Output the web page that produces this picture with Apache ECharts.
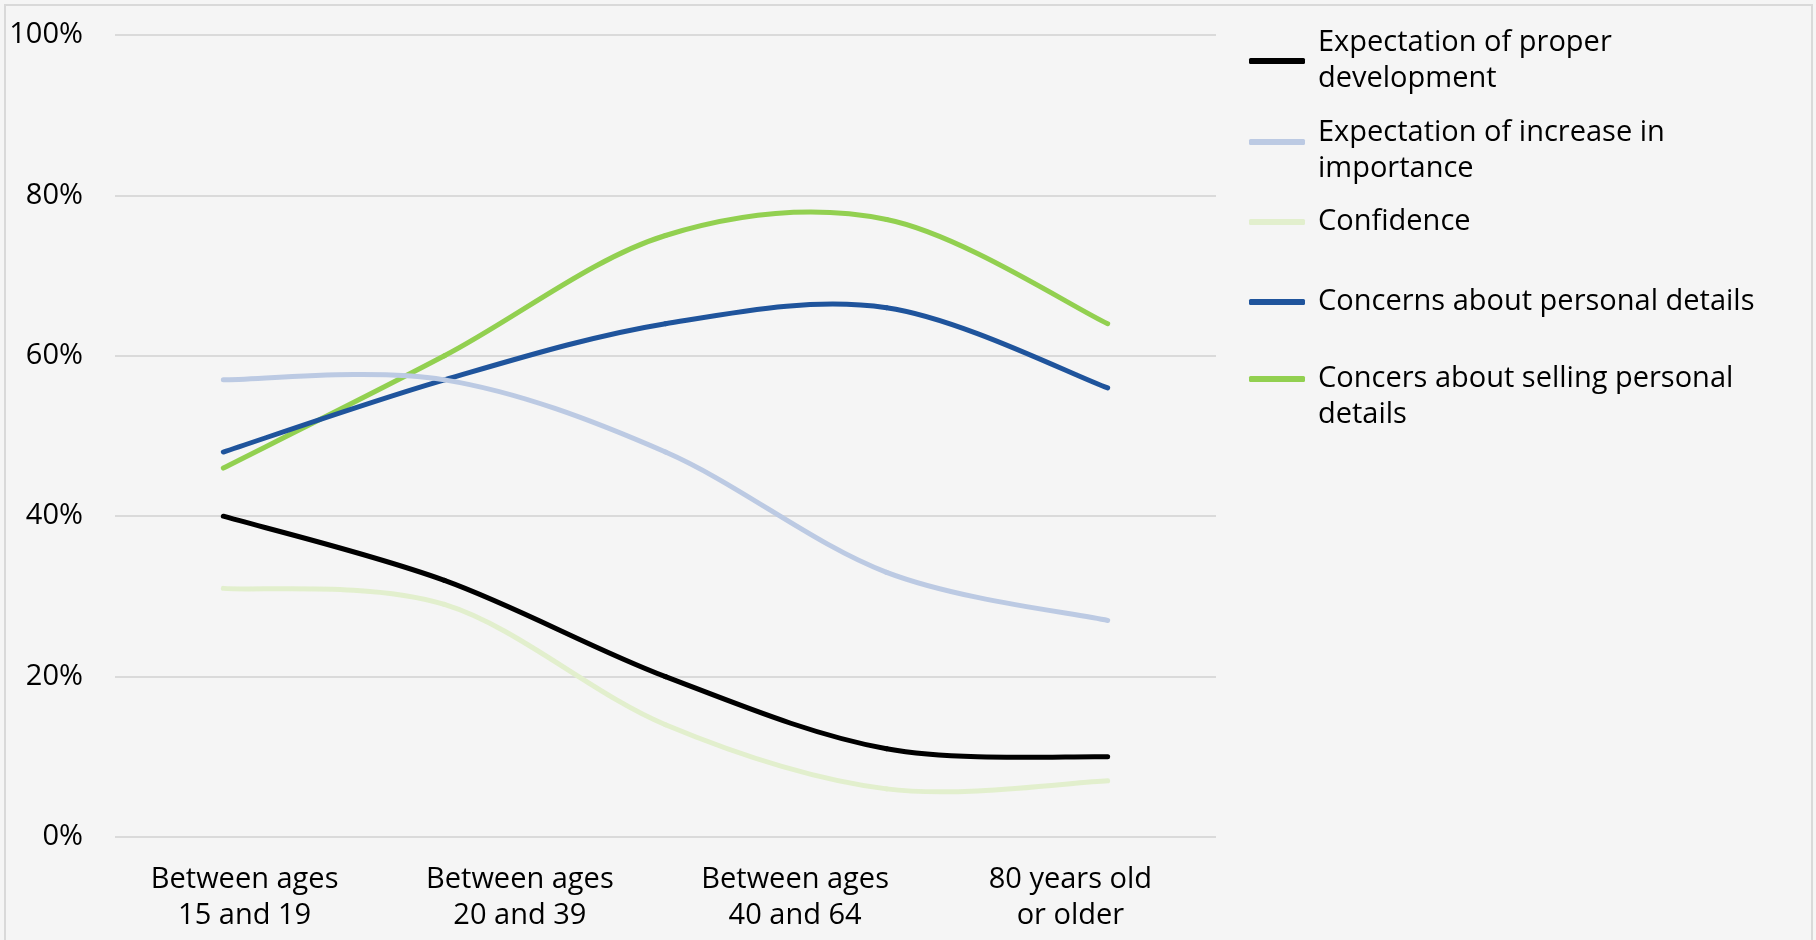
<!DOCTYPE html>
<html>
<head>
<meta charset="utf-8">
<script src="https://cdn.jsdelivr.net/npm/echarts@6/dist/echarts.min.js"></script>
<style>
  html, body { margin: 0; padding: 0; background: #f5f5f5; }
  #chart { width: 1816px; height: 940px; }
</style>
</head>
<body>
<div id="chart"></div>
<script>
// Age-group labels along the bottom axis
const ageGroups = ['Between ages\n15 and 19', 'Between ages\n20 and 39', 'Between ages\n40 and 64', '80 years old\nor older'];
// Y-axis ticks (percent)
const percentTicks = [0, 20, 40, 60, 80, 100];

// Survey series (percent of respondents at each of the five sampled stages)
const seriesNames = [
  'Expectation of proper development',
  'Expectation of increase in importance',
  'Confidence',
  'Concerns about personal details',
  'Concers about selling personal details'
];
const legendLabels = [
  'Expectation of proper\ndevelopment',
  'Expectation of increase in\nimportance',
  'Confidence',
  'Concerns about personal details',
  'Concers about selling personal\ndetails'
];
const properDevelopment   = [40, 32, 20, 11, 10];
const increaseImportance  = [57, 57, 48, 33, 27];
const confidence          = [31, 29, 14, 6, 7];
const concernsPersonal    = [48, 57, 64, 66, 56];
const concernsSelling     = [46, 60, 75, 77, 64];

const seriesValues = [properDevelopment, increaseImportance, confidence, concernsPersonal, concernsSelling];
const seriesColors = ['#000000', '#bccae3', '#e2efcd', '#1f549c', '#92d050'];

// Legend placement: top of each entry and the blank space above its text
const legendTops = [25, 97, 204, 284, 325];
const legendLead = [0, 18, 0, 0, 36];

const FONT = '"Open Sans", "Noto Sans", sans-serif';
const FS = 29;

const chart = echarts.init(document.getElementById('chart'), null, { renderer: 'canvas' });

// Smooth curve through the points (Catmull-Rom segments as cubic Béziers)
function smoothCurve(values, color) {
  return function (params, api) {
    if (params.dataIndex !== 0) return null;
    const pts = values.map((v, i) => api.coord([i, v]));
    const n = pts.length;
    const children = [];
    for (let i = 0; i < n - 1; i++) {
      const p0 = pts[Math.max(i - 1, 0)];
      const p1 = pts[i];
      const p2 = pts[i + 1];
      const p3 = pts[Math.min(i + 2, n - 1)];
      children.push({
        type: 'bezierCurve',
        shape: {
          x1: p1[0], y1: p1[1],
          x2: p2[0], y2: p2[1],
          cpx1: p1[0] + (p2[0] - p0[0]) / 6,
          cpy1: p1[1] + (p2[1] - p0[1]) / 6,
          cpx2: p2[0] - (p3[0] - p1[0]) / 6,
          cpy2: p2[1] - (p3[1] - p1[1]) / 6
        },
        style: { fill: 'none', stroke: color, lineWidth: 5, lineCap: 'round', lineJoin: 'round' }
      });
    }
    return { type: 'group', children: children };
  };
}

const series = seriesNames.map((name, k) => ({
  name: name,
  type: 'custom',
  xAxisIndex: 1,
  yAxisIndex: 0,
  color: seriesColors[k],
  itemStyle: { color: seriesColors[k] },
  renderItem: smoothCurve(seriesValues[k], seriesColors[k]),
  encode: { x: 0, y: 1 },
  data: seriesValues[k].map((v, i) => [i, v]),
  clip: false,
  z: 10 - k
}));

const legends = seriesNames.map((name, k) => ({
  show: true,
  orient: 'vertical',
  left: 1249,
  top: legendTops[k],
  padding: 0,
  itemWidth: 56,
  itemHeight: 6,
  icon: 'roundRect',
  selectedMode: false,
  data: [name],
  formatter: () => (legendLead[k] ? '{g| }\n' : '') + legendLabels[k],
  textStyle: {
    fontFamily: FONT,
    fontSize: FS,
    color: '#000',
    lineHeight: 36,
    padding: [0, 0, 0, 8],
    rich: {
      g: { lineHeight: legendLead[k] || 1, fontSize: 1 }
    }
  }
}));

chart.setOption({
  backgroundColor: '#f5f5f5',
  animation: false,
  grid: { left: 115, right: 600, top: 35, bottom: 103, containLabel: false },
  legend: legends,
  xAxis: [
    {
      type: 'category',
      data: ageGroups,
      boundaryGap: true,
      axisLine: { show: false },
      axisTick: { show: false },
      splitLine: { show: false },
      axisLabel: {
        interval: 0,
        margin: 25,
        fontFamily: FONT,
        fontSize: FS,
        lineHeight: 36,
        color: '#000',
        align: 'center',
        padding: [0, 16, 0, 0]
      }
    },
    {
      type: 'value',
      show: false,
      min: -0.49,
      max: 4.49,
      splitLine: { show: false }
    }
  ],
  yAxis: {
    type: 'value',
    min: percentTicks[0],
    max: percentTicks[percentTicks.length - 1],
    interval: 20,
    axisLine: { show: false },
    axisTick: { show: false },
    splitLine: { lineStyle: { color: '#dadada', width: 2 } },
    axisLabel: {
      margin: 32,
      fontFamily: FONT,
      fontSize: FS,
      color: '#000',
      formatter: v => v + '%'
    }
  },
  graphic: [{
    type: 'rect',
    z: -1,
    silent: true,
    shape: { x: 5, y: 5, width: 1807, height: 945 },
    style: { fill: 'transparent', stroke: '#d9d9d9', lineWidth: 2 }
  }],
  series: series
});
</script>
</body>
</html>
